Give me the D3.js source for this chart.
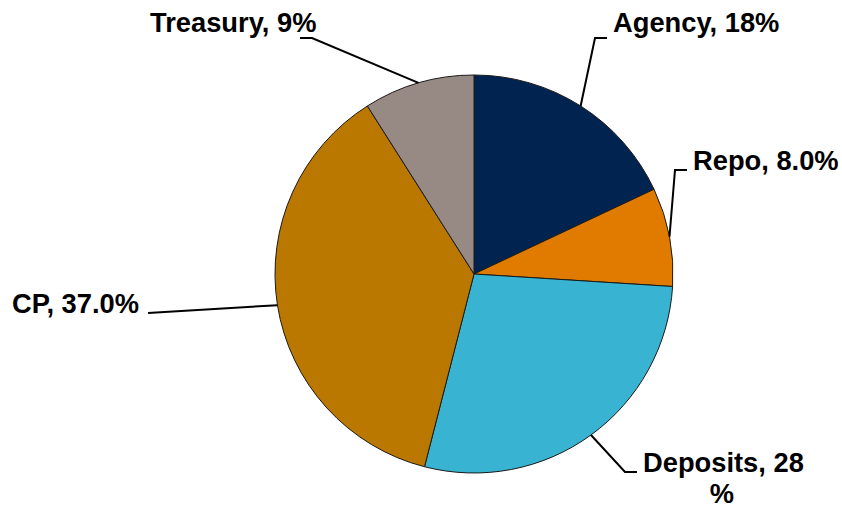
<!DOCTYPE html>
<html>
<head>
<meta charset="utf-8">
<script src="https://cdn.jsdelivr.net/npm/d3@7"></script>
<style>
  html, body { margin: 0; padding: 0; background: #fff; }
  svg { display: block; }
  text { font-family: "Liberation Sans", Arial, sans-serif; font-weight: bold; fill: #000; }
</style>
</head>
<body>
<svg id="chart" width="842" height="508"></svg>
<script>
// Portfolio composition, percent of total
const categories = ["Agency", "Repo", "Deposits", "CP", "Treasury"];
const values = [18, 8, 28, 37, 9];
const valueLabels = ["18%", "8.0%", "28", "37.0%", "9%"];
const colors = ["#002350", "#e07b00", "#38b3d1", "#bb7800", "#978a85"];

// Label layout: text anchor point and leader elbow / end for each slice
const labelLayout = [
  { tx: 613, ty: 32, elbow: [595, 38], end: [607, 38] },
  { tx: 693, ty: 170, elbow: [675, 170], end: [687, 170] },
  { tx: 643, ty: 472, elbow: [625, 472], end: [637, 472], wrap: { x: 722, y: 503 } },
  { tx: 12, ty: 313, elbow: [148, 313], end: [148, 313] },
  { tx: 150, ty: 32, elbow: [312, 38], end: [300, 38] }
];

const cx = 474, cy = 274, radius = 199;
const fontSize = 27.3;
const svg = d3.select("#chart");
const g = svg.append("g").attr("transform", `translate(${cx},${cy})`);

const data = categories.map((c, i) => ({ name: c, value: values[i], label: valueLabels[i], color: colors[i], layout: labelLayout[i] }));

const pie = d3.pie().value(d => d.value).sort(null);
const arc = d3.arc().innerRadius(0).outerRadius(radius);
const arcs = pie(data);

g.selectAll("path.slice")
  .data(arcs)
  .enter().append("path")
  .attr("class", "slice")
  .attr("d", arc)
  .attr("fill", d => d.data.color)
  .attr("stroke", "#1a1a1a")
  .attr("stroke-width", 1)
  .attr("stroke-linejoin", "round");

// Leader lines from the slice's mid-angle on the rim
const line = d3.line();
arcs.forEach(a => {
  const mid = (a.startAngle + a.endAngle) / 2;
  const sx = cx + radius * Math.sin(mid);
  const sy = cy - radius * Math.cos(mid);
  const L = a.data.layout;
  svg.append("path")
    .attr("d", line([[sx, sy], L.elbow, L.end]))
    .attr("fill", "none")
    .attr("stroke", "#000")
    .attr("stroke-width", 2);

  svg.append("text")
    .attr("x", L.tx)
    .attr("y", L.ty)
    .attr("font-size", fontSize)
    .text(`${a.data.name}, ${a.data.label}`);
  if (L.wrap) {
    // percent sign wraps onto its own line
    svg.append("text")
      .attr("x", L.wrap.x)
      .attr("y", L.wrap.y)
      .attr("font-size", fontSize)
      .attr("text-anchor", "middle")
      .text("%");
  }
});
</script>
</body>
</html>
